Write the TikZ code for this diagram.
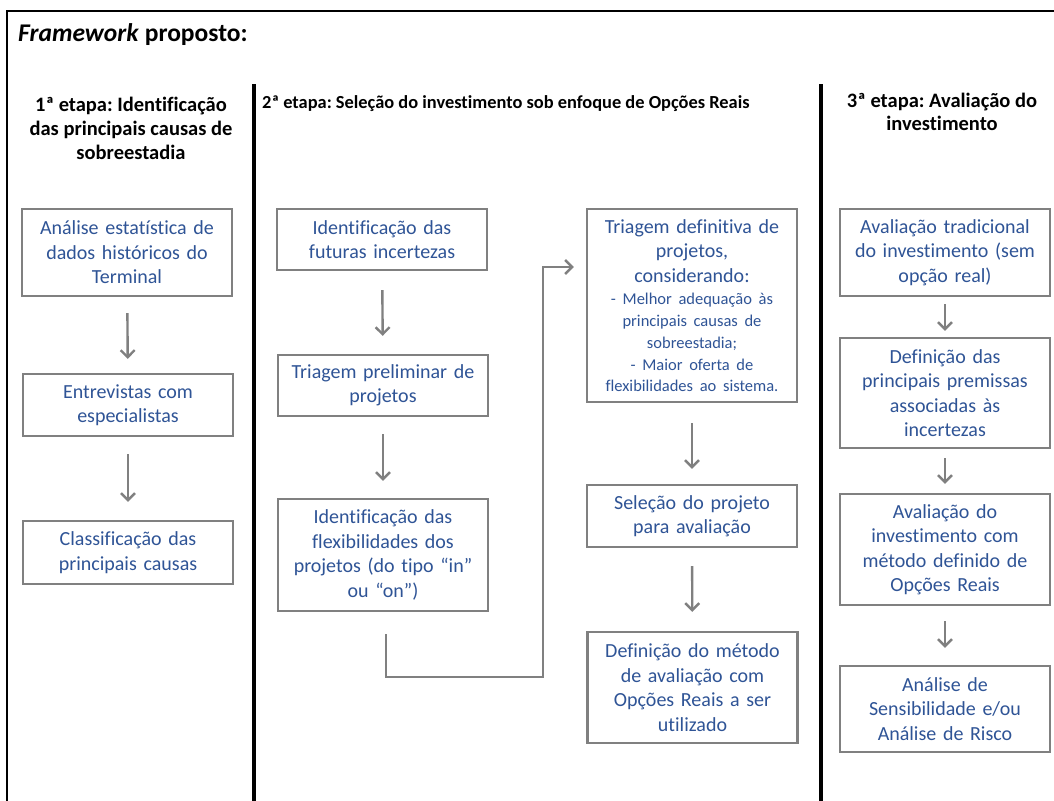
\documentclass[tikz,border=0pt]{standalone}
\usepackage{fontspec}
\setmainfont{Carlito}[Ligatures=NoCommon]
\usetikzlibrary{arrows.meta,calc}
\definecolor{txtblue}{RGB}{47,84,150}
\definecolor{boxgray}{RGB}{128,128,128}
\frenchspacing
\tikzset{
  stagebox/.style={draw=boxgray, line width=2.3pt, fill=white, text=txtblue,
    align=center, text width=206pt, inner xsep=2pt, inner ysep=2pt,
    minimum width=210pt, font=\fontsize{20}{24.5}\selectfont},
  heading/.style={text=black, font=\bfseries\fontsize{20.5}{24}\selectfont, inner sep=0pt},
  flow/.style={draw=boxgray, line width=2.4pt, line join=miter,
    -{Straight Barb[length=7pt,width=14pt]}},
  rule/.style={draw=black, line width=3.6pt},
}
\begin{document}
\begin{tikzpicture}[x=1pt,y=-1pt]
\useasboundingbox (0,0) rectangle (1054,800);
\fill[white] (0,0) rectangle (1054,800);

% outer frame and stage separators
\draw[line width=2.2pt] (7,802) -- (7,11) -- (1056,11);
\draw[rule] (254,84) -- (254,802);
\draw[rule] (821,84) -- (821,802);

% title and stage headings
\node[anchor=west, inner sep=0pt, font=\bfseries\fontsize{25.5}{28}\selectfont] (title) at (18,35) {\textit{Framework} proposto:};
\node[heading, align=center] (h1) at (131,128) {1ª etapa: Identificação\\das principais causas de\\sobreestadia};
\node[heading, anchor=west, font=\bfseries\fontsize{18.4}{22}\selectfont] (h2) at (262,104) {2ª etapa: Seleção do investimento sob enfoque de Opções Reais};
\node[heading, align=center, font=\bfseries\fontsize{20.5}{22.5}\selectfont] (h3) at (942,112) {3ª etapa: Avaliação do\\investimento};

% 1st stage
\node[stagebox, minimum height=87pt] (a1) at (127,252.5) {Análise estatística de\\dados históricos do\\Terminal};
\node[stagebox, minimum height=62pt] (a2) at (128,405) {Entrevistas com\\especialistas};
\node[stagebox, minimum height=63pt] (a3) at (128,552.5) {Classificação das\\principais causas};

% 2nd stage, left column
\node[stagebox, minimum height=61pt] (b1) at (382,239.5) {Identificação das\\futuras incertezas};
\node[stagebox, minimum height=61pt] (b2) at (383,385.5) {Triagem preliminar de\\projetos};
\node[stagebox, minimum height=112pt] (b3) at (383,555) {Identificação das\\flexibilidades dos\\projetos (do tipo “in”\\ou “on”)};

% 2nd stage, right column
\node[stagebox, minimum height=193pt] (c1) at (692,305.5) {{\fontsize{20}{24.5}\selectfont Triagem definitiva de\\projetos,\\considerando:\par}\vspace{1.2pt}{\fontsize{16.5}{21.7}\selectfont - Melhor adequação às\\principais causas de\\sobreestadia;\\- Maior oferta de\\flexibilidades ao sistema.\par}};
\node[stagebox, minimum height=62pt] (c2) at (692,516) {Seleção do projeto\\para avaliação};
\node[stagebox, minimum height=111pt] (c3) at (692.5,687.5) {Definição do método\\de avaliação com\\Opções Reais a ser\\utilizado};

% 3rd stage
\node[stagebox, minimum height=87pt] (d1) at (945,252.5) {Avaliação tradicional\\do investimento (sem\\opção real)};
\node[stagebox, minimum height=110pt] (d2) at (945,393) {Definição das\\principais premissas\\associadas às\\incertezas};
\node[stagebox, minimum height=111pt] (d3) at (945,549.5) {Avaliação do\\investimento com\\método definido de\\Opções Reais};
\node[stagebox, minimum height=86pt] (d4) at (945,709) {Análise de\\Sensibilidade e/ou\\Análise de Risco};

% connectors
\draw[flow, shorten <=16pt, shorten >=14pt] (a1) -- (a2);
\draw[flow, shorten <=17pt, shorten >=18pt] (a2) -- (a3);
\draw[flow, shorten <=19pt, shorten >=18pt] (b1) -- (b2);
\draw[flow, shorten <=17pt, shorten >=17pt] (b2) -- (b3);
\draw[flow, shorten <=20pt, shorten >=15pt] (c1) -- (c2);
\draw[flow, shorten <=18pt, shorten >=19pt] (c2) -- (c3);
\draw[flow, shorten <=7pt, shorten >=6pt] (d1) -- (d2);
\draw[flow, shorten <=9pt, shorten >=9pt] (d2) -- (d3);
\draw[flow, shorten <=15pt, shorten >=17pt] (d3) -- (d4);

\coordinate (bend) at (543,677);
\coordinate (cin) at ($(c1.west)+(0,-38.5)$);
\draw[flow, shorten <=22pt, shorten >=12pt] ([xshift=3pt]b3.south) |- (bend) |- (cin);
\end{tikzpicture}
\end{document}
